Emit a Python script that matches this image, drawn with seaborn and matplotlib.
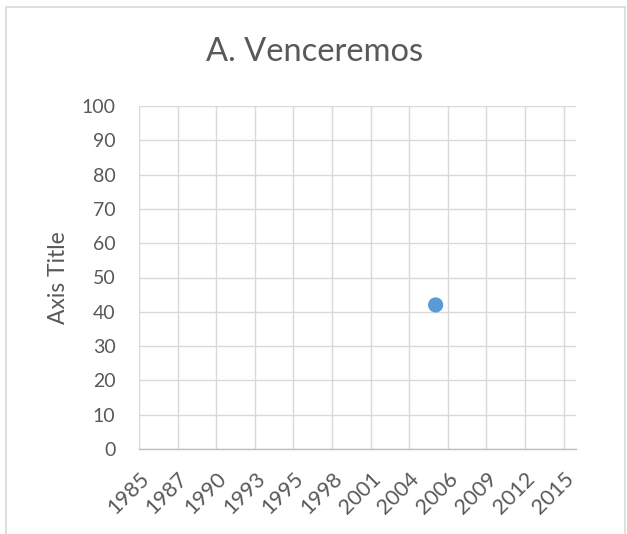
import pandas as pd
import matplotlib.pyplot as plt
from matplotlib.lines import Line2D
import seaborn as sns

# Data
point_dates = ['2006-01-16']
point_values = [42]
tick_start = '1985-01-01'
tick_step_days = 1000
tick_labels = ['1985', '1987', '1990', '1993', '1995', '1998',
               '2001', '2004', '2006', '2009', '2012', '2015']
x_end = '2016-01-01'
y_ticks = list(range(0, 101, 10))

df = pd.DataFrame({'date': pd.to_datetime(point_dates), 'value': point_values})
tick_dates = pd.date_range(tick_start, periods=len(tick_labels), freq=f'{tick_step_days}D')

sns.set_style('white')
plt.rcParams['font.family'] = ['Lato', 'DejaVu Sans']

text_col = '#595959'
grid_col = '#d9d9d9'

fig = plt.figure(figsize=(6.27, 5.34), dpi=100)
ax = fig.add_axes([139 / 627, 1 - 449 / 534, 437 / 627, 343 / 534])

sns.scatterplot(data=df, x='date', y='value', ax=ax, color='#5b9bd5',
                s=120, edgecolor='none', zorder=5, legend=False)

ax.set_xlim(pd.Timestamp(tick_start), pd.Timestamp(x_end))
ax.set_ylim(0, 100)
ax.set_xticks(tick_dates)
ax.set_xticklabels(tick_labels, rotation=45, ha='right', rotation_mode='anchor')
ax.set_yticks(y_ticks)

ax.grid(True, color=grid_col, linewidth=1.0)
ax.set_axisbelow(True)
for side in ['top', 'right', 'left']:
    ax.spines[side].set_visible(False)
ax.spines['bottom'].set_color('#bfbfbf')
ax.spines['bottom'].set_linewidth(1.0)

ax.tick_params(axis='both', length=0, colors=text_col)
ax.tick_params(axis='y', pad=17, labelsize=14)
ax.tick_params(axis='x', pad=14, labelsize=15.5)

ax.set_xlabel('')
ax.set_ylabel('Axis Title', fontsize=16.5, color=text_col)
ax.yaxis.set_label_coords(-0.16, 0.5)
fig.text(315 / 627, 1 - 52 / 534, 'A. Venceremos', fontsize=23.5, color=text_col,
         ha='center', va='center')

# chart frame
frame_col = '#d9d9d9'
fig.add_artist(Line2D([6 / 627, 6 / 627], [0, 1 - 7 / 534], transform=fig.transFigure, color=frame_col, lw=1.2))
fig.add_artist(Line2D([6 / 627, 625 / 627], [1 - 7 / 534, 1 - 7 / 534], transform=fig.transFigure, color=frame_col, lw=1.2))
fig.add_artist(Line2D([625 / 627, 625 / 627], [0, 1 - 7 / 534], transform=fig.transFigure, color=frame_col, lw=1.2))

fig.savefig('out.png', dpi=100)
